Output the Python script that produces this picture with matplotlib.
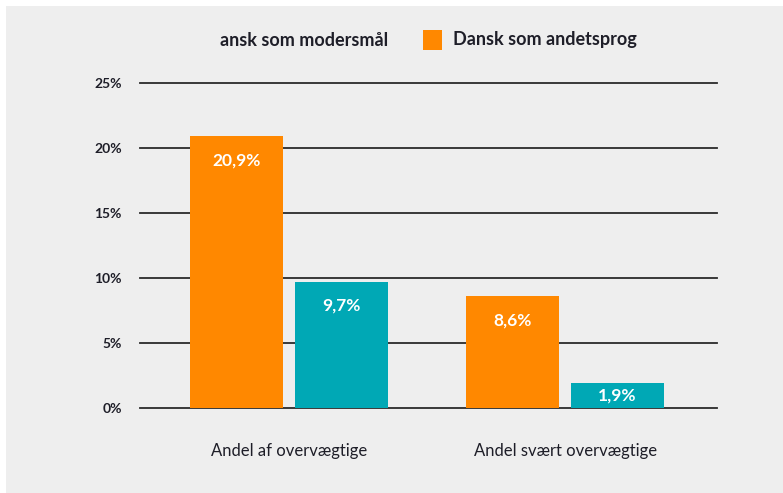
import matplotlib
matplotlib.use("Agg")
import matplotlib.pyplot as plt
from matplotlib.patches import Rectangle
import numpy as np

# data
categories = ["Andel af overvægtige", "Andel svært overvægtige"]
andetsprog = [20.9, 8.6]      # Dansk som andetsprog (orange)
modersmaal = [9.7, 1.9]       # Dansk som modersmål (teal)
yticks = [0, 5, 10, 15, 20, 25]
ytick_labels = ["0%", "5%", "10%", "15%", "20%", "25%"]

orange = "#FF8800"
teal = "#00A8B5"
bg = "#EEEEEE"
txt = "#1e1e28"

plt.rcParams['font.family'] = ['Lato', 'DejaVu Sans']

W, H = 783, 493
fig = plt.figure(figsize=(W / 100, H / 100), dpi=100)
fig.patch.set_facecolor(bg)
# white strips of the screenshot (top and left)
fig.patches.append(Rectangle((0, 1 - 6 / H), 1, 6 / H, transform=fig.transFigure,
                             facecolor="white", edgecolor="none", zorder=-1))
fig.patches.append(Rectangle((0, 0), 6 / W, 1, transform=fig.transFigure,
                             facecolor="white", edgecolor="none", zorder=-1))

ax = fig.add_axes([140 / W, 1 - 408 / H, (717 - 140) / W, (408 - 83) / H])
ax.set_facecolor("none")
for s in ax.spines.values():
    s.set_visible(False)

x = np.arange(len(categories))
width = 0.337
off = 0.19
ax.set_xlim(-0.54, 1.55)
ax.set_ylim(0, 25)

for t in yticks:
    ax.axhline(t, color="#2a2a2a", lw=1.3, zorder=1, clip_on=False)

b1 = ax.bar(x - off, andetsprog, width, color=orange, zorder=2)
b2 = ax.bar(x + off, modersmaal, width, color=teal, zorder=2)

px_per_unit = (408 - 83) / 25
for bars, vals in [(b1, andetsprog), (b2, modersmaal)]:
    for b, v in zip(bars, vals):
        drop = min(24, v * px_per_unit / 2) * 0.72
        ax.annotate(f"{v:.1f}%".replace(".", ","), (b.get_x() + b.get_width() / 2, v),
                    xytext=(0, -drop), textcoords="offset points", ha="center", va="center",
                    color="white", fontsize=12.5, fontweight="bold", zorder=3)

ax.set_yticks(yticks)
ax.set_yticklabels(ytick_labels, fontsize=10, fontweight="bold", color=txt)
ax.tick_params(axis="y", length=0, pad=13)
ax.set_xticks(x)
ax.set_xticklabels(categories, fontsize=12, color=txt)
ax.tick_params(axis="x", length=0, pad=25)

# legend (first entry is cut off in the source)
fig.text(220 / W, 1 - 40 / H, "ansk som modersmål", fontsize=13, fontweight="bold",
         color=txt, ha="left", va="center")
fig.patches.append(Rectangle((423 / W, 1 - 50 / H), 19 / W, 20 / H, transform=fig.transFigure,
                             facecolor=orange, edgecolor="none"))
fig.text(453 / W, 1 - 40 / H, "Dansk som andetsprog", fontsize=13, fontweight="bold",
         color=txt, ha="left", va="center")

fig.savefig("out.png", dpi=100, facecolor=fig.get_facecolor())
